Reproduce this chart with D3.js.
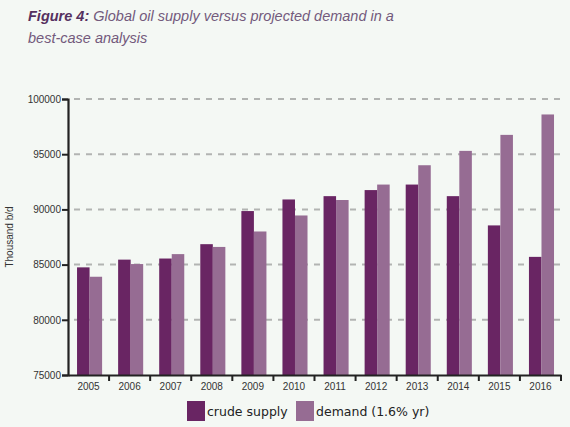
<!DOCTYPE html>
<html>
<head>
<meta charset="utf-8">
<script src="https://cdn.jsdelivr.net/npm/d3@7"></script>
<style>
  body { margin: 0; background: #f4f8f4; }
  svg { display: block; font-family: "Liberation Sans", Arial, sans-serif; }
</style>
</head>
<body>
<script>
var years = ['2005', '2006', '2007', '2008', '2009', '2010', '2011', '2012', '2013', '2014', '2015', '2016'];
var supply = [84750, 85450, 85550, 86850, 89850, 90900, 91200, 91750, 92250, 91200, 88550, 85700];
var demand = [83900, 85050, 85950, 86600, 88000, 89450, 90850, 92250, 94000, 95300, 96750, 98600];
var yTicks = [75000, 80000, 85000, 90000, 95000, 100000];
var seriesNames = ['crude supply', 'demand (1.6% yr)'];

var colors = ['#692563', '#966c93'];

var fullWidth = 570;
var fullHeight = 427;
var margin = {top: 99, right: 9, bottom: 52, left: 68};
var width = fullWidth - margin.left - margin.right;
var height = fullHeight - margin.top - margin.bottom;

var svg = d3.select('body').append('svg')
  .attr('width', fullWidth)
  .attr('height', fullHeight);

// title
var title = svg.append('text')
  .attr('x', 28)
  .attr('y', 21)
  .style('font-size', '14.5px')
  .style('font-style', 'italic')
  .style('fill', '#735a7c');
title.append('tspan')
  .style('font-weight', 'bold')
  .style('fill', '#55305f')
  .text('Figure 4:');
title.append('tspan').text(' Global oil supply versus projected demand in a');
svg.append('text')
  .attr('x', 28)
  .attr('y', 43)
  .style('font-size', '14.5px')
  .style('font-style', 'italic')
  .style('fill', '#735a7c')
  .text('best-case analysis');

var g = svg.append('g')
  .attr('transform', 'translate(' + margin.left + ',' + margin.top + ')');

var x = d3.scaleBand()
  .domain(years)
  .range([0, width]);

var inner = d3.scaleBand()
  .domain([0, 1])
  .range([x.bandwidth() * 0.22, x.bandwidth() * 0.83]);

var y = d3.scaleLinear()
  .domain([75000, 100000])
  .range([height, 0]);

// grid
g.selectAll('.grid')
  .data(yTicks.slice(1))
  .enter().append('line')
    .attr('x1', 6)
    .attr('x2', width)
    .attr('y1', function(d) { return y(d); })
    .attr('y2', function(d) { return y(d); })
    .style('stroke', '#b2b4b2')
    .style('stroke-width', 2)
    .style('stroke-dasharray', '6,6');

// bars
var groups = g.selectAll('.year')
  .data(years)
  .enter().append('g')
    .attr('transform', function(d) { return 'translate(' + x(d) + ',0)'; });

groups.selectAll('rect')
  .data(function(d, i) { return [supply[i], demand[i]]; })
  .enter().append('rect')
    .attr('x', function(d, i) { return inner(i); })
    .attr('width', inner.bandwidth())
    .attr('y', function(d) { return y(d); })
    .attr('height', function(d) { return height - y(d); })
    .style('fill', function(d, i) { return colors[i]; });

// y axis
var yAxis = d3.axisLeft(y)
  .tickValues(yTicks)
  .tickSize(6)
  .tickPadding(1)
  .tickFormat(d3.format('d'));

var yAxisEle = g.append('g')
  .call(yAxis);
yAxisEle.select('.domain').style('stroke', '#222').style('stroke-width', 2.2);
yAxisEle.selectAll('.tick line').style('stroke', '#222').style('stroke-width', 2);
yAxisEle.selectAll('text')
  .style('font-size', '10px')
  .style('fill', '#333');

// x axis
var xAxis = d3.axisBottom(x)
  .tickSize(0)
  .tickPadding(8);

var xAxisEle = g.append('g')
  .attr('transform', 'translate(0,' + height + ')')
  .call(xAxis);
xAxisEle.select('.domain').style('stroke', '#222').style('stroke-width', 2.2);
xAxisEle.selectAll('text')
  .style('font-size', '10px')
  .style('fill', '#333');

// separators between years
xAxisEle.selectAll('.sep')
  .data(years.slice(1).concat(['end']))
  .enter().append('line')
    .attr('x1', function(d, i) { return x(years[i]) + x.bandwidth(); })
    .attr('x2', function(d, i) { return x(years[i]) + x.bandwidth(); })
    .attr('y1', 0)
    .attr('y2', 6)
    .style('stroke', '#222')
    .style('stroke-width', 2);

yAxisEle.append('text')
  .attr('transform', 'rotate(-90)translate(-' + height / 2 + ', 0)')
  .attr('y', -55)
  .style('text-anchor', 'middle')
  .style('fill', '#333')
  .style('font-size', '10px')
  .text('Thousand b/d');

// legend
var legend = svg.append('g')
  .attr('transform', 'translate(187,401)');

var legendX = [0, 109];
seriesNames.forEach(function(name, i) {
  legend.append('rect')
    .attr('x', legendX[i])
    .attr('y', 0)
    .attr('width', 18)
    .attr('height', 20)
    .style('fill', colors[i]);
  legend.append('text')
    .attr('x', legendX[i] + 20)
    .attr('y', 15)
    .style('font-family', '"DejaVu Sans", sans-serif')
    .style('font-size', '12.5px')
    .style('fill', '#222')
    .text(name);
});
</script>
</body>
</html>
